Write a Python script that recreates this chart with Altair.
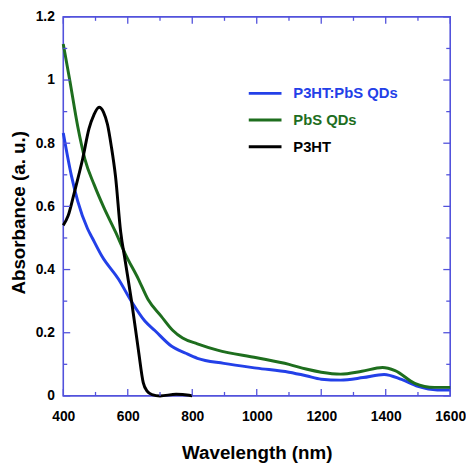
import altair as alt
import pandas as pd

# ---- data ----
series = ["P3HT:PbS QDs", "PbS QDs", "P3HT"]
colors = ["#2340e8", "#1e6e1e", "#000000"]

blend_w = [400, 425, 445, 475, 490, 520, 571, 612, 653, 684, 735, 780, 816, 898, 1000, 1100, 1153, 1200, 1260, 1330, 1395, 1449, 1500, 1560, 1600]
blend_a = [0.832, 0.698, 0.616, 0.53, 0.50, 0.442, 0.37, 0.298, 0.237, 0.207, 0.158, 0.135, 0.119, 0.103, 0.088, 0.075, 0.064, 0.053, 0.050, 0.058, 0.068, 0.052, 0.030, 0.019, 0.019]

pbs_w = [400, 420, 445, 467, 496, 526, 562, 592, 633, 663, 704, 740, 770, 816, 878, 1000, 1100, 1153, 1200, 1260, 1326, 1390, 1429, 1490, 1551, 1600]
pbs_a = [1.114, 1.0, 0.852, 0.75, 0.668, 0.596, 0.519, 0.45, 0.37, 0.305, 0.252, 0.207, 0.183, 0.165, 0.145, 0.121, 0.100, 0.085, 0.075, 0.069, 0.078, 0.090, 0.080, 0.040, 0.027, 0.027]

p3ht_w = [400, 415, 435, 460, 480, 495, 511, 525, 537, 549, 562, 578, 592, 612, 633, 648, 660, 675, 700, 750, 790, 800]
p3ht_a = [0.54, 0.57, 0.647, 0.75, 0.847, 0.89, 0.914, 0.898, 0.86, 0.79, 0.695, 0.519, 0.428, 0.298, 0.145, 0.042, 0.015, 0.004, 0.0, 0.005, 0.002, 0.0]

x_major = [400, 600, 800, 1000, 1200, 1400, 1600]
x_minor = [500, 700, 900, 1100, 1300, 1500]
y_major = [0, 0.2, 0.4, 0.6, 0.8, 1.0, 1.2]
y_minor = [0.1, 0.3, 0.5, 0.7, 0.9, 1.1]

# ---- build table ----
rows = []
for name, ws, As in zip(series, [blend_w, pbs_w, p3ht_w], [blend_a, pbs_a, p3ht_a]):
    for w, a in zip(ws, As):
        rows.append({"w": w, "a": a, "s": name})
df = pd.DataFrame(rows)

W, H = 392, 384
AX = "#5252dc"
FONT = "Liberation Sans"

xs = alt.Scale(domain=[400, 1600], nice=False, zero=False)
ys = alt.Scale(domain=[0, 1.2], nice=False, zero=False)

label_color = {"expr": "datum.label == 'P3HT' ? '#000000' : (datum.label == 'PbS QDs' ? '#1e6e1e' : '#2340e8')"}

x_axis = alt.Axis(
    values=x_major, format="d", title="Wavelength (nm)", ticks=False, tickSize=0,
    domain=False, grid=False, labelFlush=False, labelPadding=14, labelFont=FONT,
    labelFontSize=14, labelFontWeight="bold", labelColor="black", titleFont=FONT,
    titleFontSize=19, titleFontWeight="bold", titleColor="black", titleY=63,
    titleBaseline="alphabetic")
y_axis = alt.Axis(
    values=y_major, format="~g", title="Absorbance (a. u.)", ticks=False, tickSize=0,
    domain=False, grid=False, labelFlush=False, labelPadding=9, labelFont=FONT,
    labelFontSize=14, labelFontWeight="bold", labelColor="black", titleFont=FONT,
    titleFontSize=19, titleFontWeight="bold", titleColor="black", titleX=-54,
    titleY=198, titleBaseline="top", titleAngle=270)

lines = alt.Chart(df).mark_line(strokeWidth=3, interpolate="monotone").encode(
    x=alt.X("w:Q", scale=xs, axis=x_axis),
    y=alt.Y("a:Q", scale=ys, axis=y_axis),
    color=alt.Color("s:N", scale=alt.Scale(domain=series, range=colors), legend=alt.Legend(
        orient="none", legendX=186, legendY=59, title=None, symbolType="stroke",
        symbolStrokeWidth=3, symbolSize=1100, labelFont=FONT, labelFontSize=15,
        labelFontWeight="bold", labelColor=label_color, rowPadding=0, labelOffset=10)),
    detail="s:N",
)

def xt(vals, L):
    d = pd.DataFrame({"w": vals})
    b = alt.Chart(d).mark_rule(color=AX, strokeWidth=1.3).encode(
        x=alt.X("w:Q", scale=xs, axis=x_axis), y=alt.value(H), y2=alt.value(H - L))
    t = alt.Chart(d).mark_rule(color=AX, strokeWidth=1.3).encode(
        x=alt.X("w:Q", scale=xs, axis=x_axis), y=alt.value(0), y2=alt.value(L))
    return [b, t]

def yt(vals, L):
    d = pd.DataFrame({"a": vals})
    l = alt.Chart(d).mark_rule(color=AX, strokeWidth=1.3).encode(
        y=alt.Y("a:Q", scale=ys, axis=y_axis), x=alt.value(0), x2=alt.value(L))
    r = alt.Chart(d).mark_rule(color=AX, strokeWidth=1.3).encode(
        y=alt.Y("a:Q", scale=ys, axis=y_axis), x=alt.value(W), x2=alt.value(W - L))
    return [l, r]

layers = [lines] + xt(x_major, 7) + xt(x_minor, 4) + yt(y_major, 7) + yt(y_minor, 4)

chart = alt.layer(*layers).properties(
    width=W, height=H,
    padding={"left": 56, "top": 6, "right": 16, "bottom": 66},
    autosize=alt.AutoSizeParams(type="none"),
).configure_view(stroke=AX, strokeWidth=1.6)

chart.save("out.html", embed_options={"renderer": "svg", "actions": False})
